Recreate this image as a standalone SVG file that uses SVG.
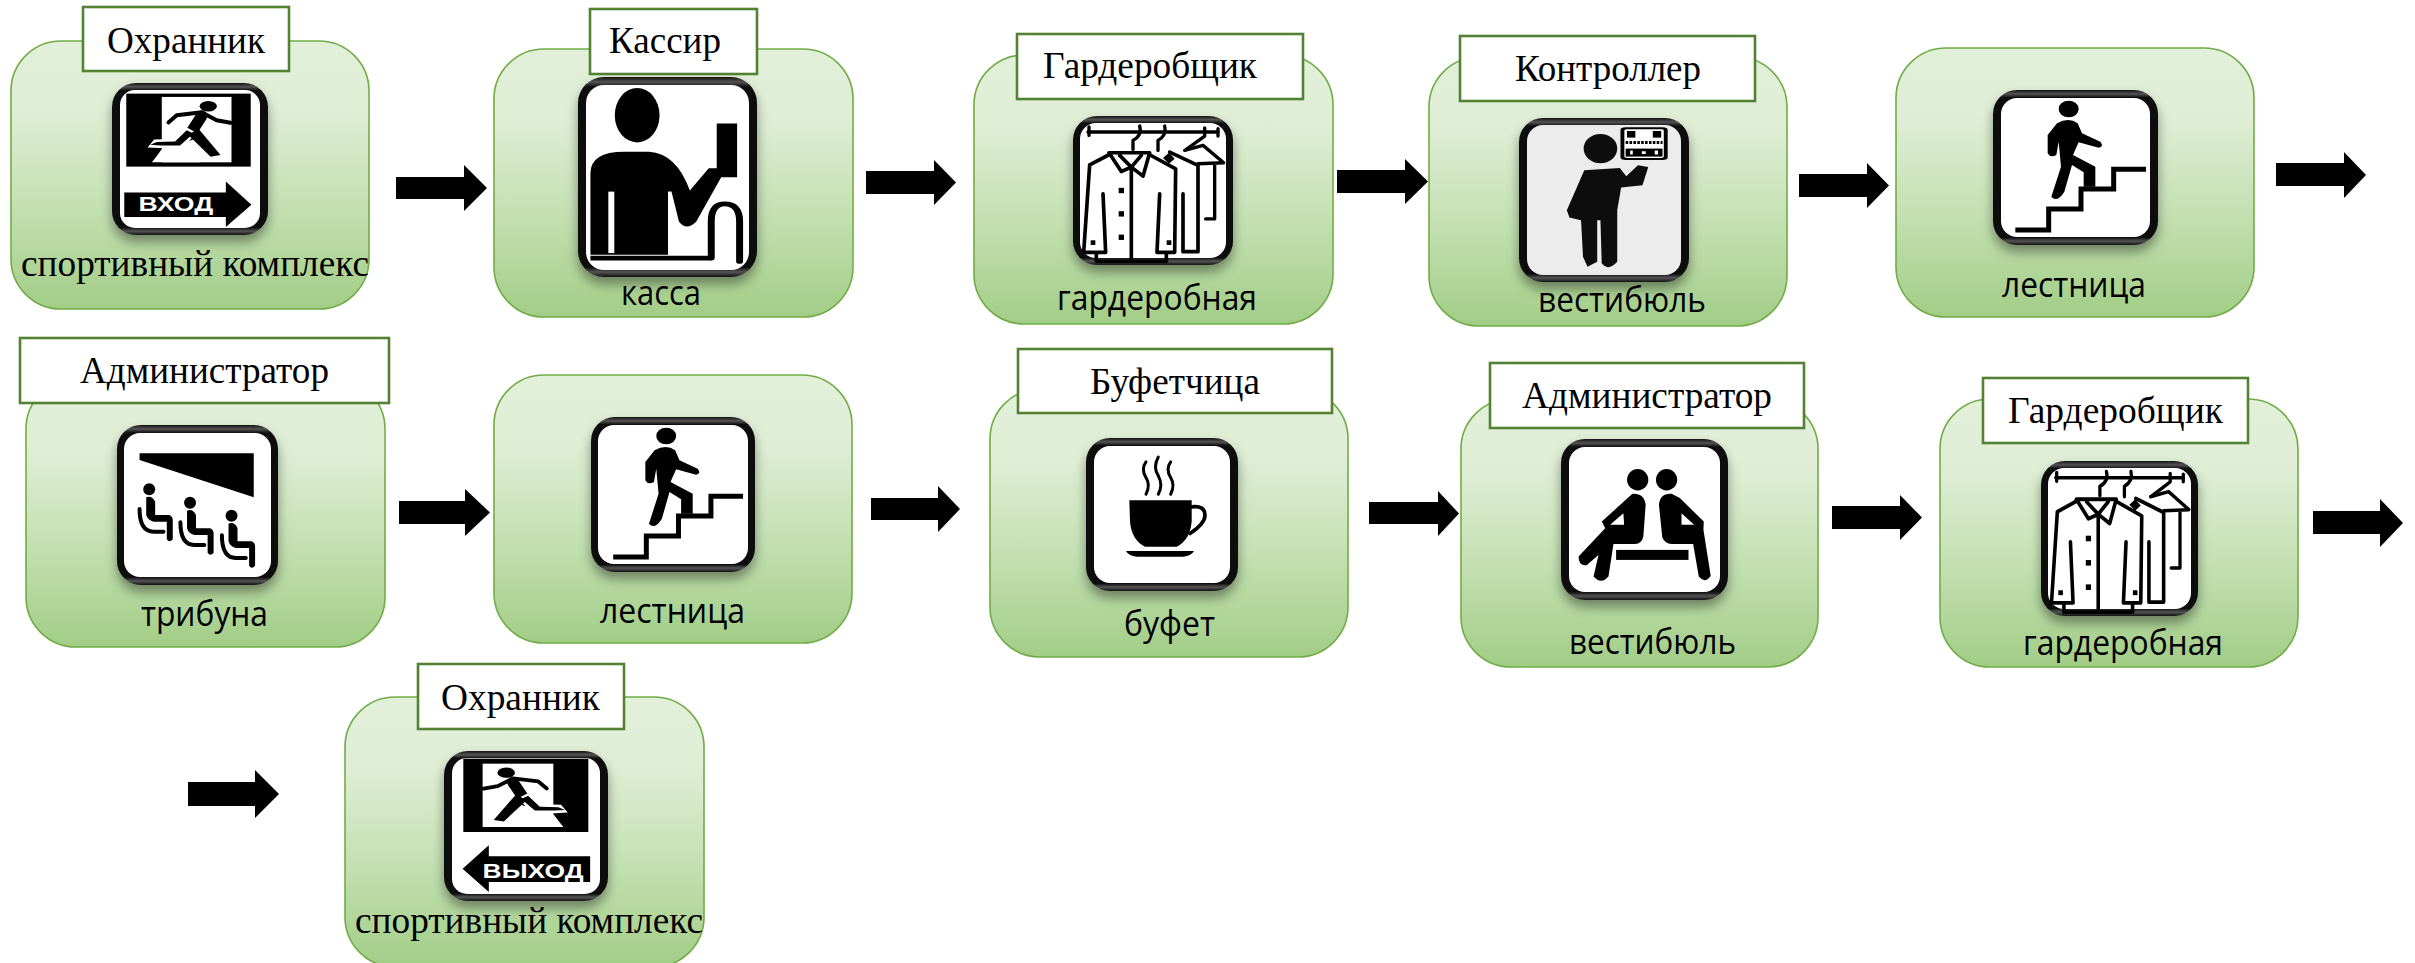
<svg xmlns="http://www.w3.org/2000/svg" width="2415" height="963" viewBox="0 0 2415 963">
<style>
.card{fill:url(#cardGrad);stroke:#70ad47;stroke-width:1.6}
.lab{fill:#fff;stroke:#548235;stroke-width:2.6}
.frame{fill:url(#bevel);filter:url(#shadow)}
.in{fill:#fff}
.t{font-family:"Liberation Serif","Times New Roman",serif;font-size:37px;fill:#000}
.s{font-family:"Open Sans","Liberation Sans",sans-serif;font-size:34px;fill:#000}
.arrow{fill:#000}
.b{fill:#000}
.w{fill:#fff}
.l{fill:none;stroke:#000;stroke-linecap:round;stroke-linejoin:round}
.bt{stroke-linecap:butt;stroke-linejoin:miter}
.sign{font-family:"Liberation Sans",Arial,sans-serif;font-weight:700;fill:#fff}
</style>
<defs>
<linearGradient id="cardGrad" x1="0" y1="0" x2="0" y2="1">
<stop offset="0" stop-color="#e2efd9"/><stop offset="0.25" stop-color="#e0eed6"/><stop offset="0.6" stop-color="#c5e1b4"/><stop offset="1" stop-color="#a2cd86"/>
</linearGradient>
<linearGradient id="bevel" x1="0" y1="0" x2="0" y2="1">
<stop offset="0" stop-color="#111"/><stop offset="0.025" stop-color="#555"/><stop offset="0.05" stop-color="#0a0a0a"/><stop offset="0.95" stop-color="#0a0a0a"/><stop offset="0.975" stop-color="#555"/><stop offset="1" stop-color="#111"/>
</linearGradient>
<filter id="shadow" x="-20%" y="-15%" width="140%" height="135%">
<feDropShadow dx="0" dy="7" stdDeviation="6" flood-color="#000" flood-opacity="0.4"/>
</filter>

<g id="runner">
<ellipse cx="625" cy="318" rx="26" ry="16" class="b"/>
<path class="l" stroke-width="34" d="M605 348L568 405"/>
<path class="l" stroke-width="12" d="M505 367L530 345L605 336L650 360L692 368"/>
<path d="M442 442L462 418L528 416L556 380L590 398L548 444L478 444Z" class="w"/>
<path d="M450 434L470 426L525 424L560 390L580 400L540 436L480 436Z" class="b"/>
<path d="M565 405L595 385L662 465L632 470Z" class="b"/>
<path d="M455 487L470 468L484 448L540 448L560 440L600 487Z" class="w"/>
</g>

<symbol id="g-enter" viewBox="335 248 470 458" preserveAspectRatio="none">
<rect x="378" y="280" width="375" height="220" class="b"/>
<rect x="485" y="290" width="210" height="197" class="w"/>
<use href="#runner"/>
<path class="b" d="M372 578H678V545L755 615L678 682V652H372Z"/>
<text class="sign" x="415" y="635" font-size="62" textLength="225" lengthAdjust="spacingAndGlyphs">ВХОД</text>
</symbol>

<symbol id="g-exit" viewBox="782 302 450 450" preserveAspectRatio="none">
<rect x="835" y="325" width="343" height="220" class="b"/>
<rect x="888" y="340" width="194" height="190" class="w"/>
<use href="#runner" transform="matrix(-.924 0 0 .964 1530.100 60.400)"/>
<path class="b" d="M833 655L905 585V618H1183V695H905V725Z"/>
<text class="sign" x="888" y="683" font-size="60" textLength="277" lengthAdjust="spacingAndGlyphs">ВЫХОД</text>
</symbol>

<symbol id="g-cash" viewBox="197 230 360 602" preserveAspectRatio="none">
<ellipse cx="316" cy="345" rx="45" ry="82" class="b"/>
<path class="b" d="M222 765V520Q222 455 290 455H340Q395 460 422 572L460 505H476V370H517V532H485L435 665Q415 695 400 665L385 575H378V765Z"/>
<path d="M258 575H270V760H258Z" class="w"/>
<path class="l bt" stroke-width="14" d="M222 775H465"/>
<path class="l" stroke-width="14" d="M465 775V665Q465 612 492 612Q522 612 522 665V785"/>
</symbol>

<symbol id="g-coat" viewBox="10 12 480 446" preserveAspectRatio="none">
<path class="l" stroke-width="10" d="M55 60H445"/>
<path class="l" stroke-width="10" d="M58 45V70M445 50V72"/>
<path class="l" stroke-width="10" d="M210 42Q218 70 190 85V112M285 42Q292 70 265 85V115M405 48V72L350 112"/>
<path class="l" stroke-width="10" d="M345 115L400 100L462 152L385 155M435 155V320H408"/>
<path class="l" stroke-width="11" d="M300 120L385 160V418H340V245"/>
<path class="b" d="M298 122L315 140L298 155L280 138Z"/>
<path class="l" stroke-width="11" d="M118 128L60 158L42 420H108L100 245M80 420V447H290V420M262 420H315L318 170L240 128M262 420L270 245"/>
<path class="l" stroke-width="11" d="M118 122H240L220 192L185 165L155 178ZM150 130L185 165L215 130M185 170V445"/>
<rect x="147" y="227" width="16" height="16" class="b"/><rect x="147" y="297" width="16" height="16" class="b"/><rect x="147" y="367" width="16" height="16" class="b"/>
<rect x="63" y="384" width="14" height="14" class="b"/><rect x="291" y="384" width="14" height="14" class="b"/>
</symbol>

<symbol id="g-ctrl" viewBox="184 353 263 493" preserveAspectRatio="none">
<ellipse cx="310" cy="445" rx="26" ry="44" fill="#0d0d0d"/>
<path fill="#0d0d0d" d="M285 510L340 503L350 528L368 495L384 500L375 555L342 562L336 630V785Q322 815 312 790L310 660H305V785L290 800L283 770L280 660L262 652L258 630Z"/>
<rect x="341" y="381" width="73" height="98" rx="8" class="b"/>
<rect x="347" y="387" width="61" height="86" rx="4" class="w"/>
<rect x="351" y="392" width="13" height="20" class="b"/><rect x="391" y="392" width="13" height="20" class="b"/>
<path class="l bt" stroke-width="9" stroke-dasharray="4 2" d="M349 427H406"/>
<rect x="349" y="445" width="57" height="24" class="b"/>
<path d="M356 451h4v12h-4zM374 453h6v8h-6zM394 451h5v12h-5z" class="w"/>
</symbol>

<symbol id="g-stairs" viewBox="8 15 495 465" preserveAspectRatio="none">
<path class="l bt" stroke-width="15" d="M75 435H175V372H272V312H370V253H467"/>
<ellipse cx="235" cy="72" rx="30" ry="25" class="b"/>
<path class="b" d="M200 115Q235 95 262 115L275 145L330 170Q342 185 325 188L265 172L248 210L315 245V305H280V262L245 240L222 320Q200 355 183 335L212 245L205 170L198 210Q180 220 172 205V150Z"/>
</symbol>

<g id="seated">
<circle cx="117" cy="208" r="18" class="b"/>
<path class="b" d="M108 232Q125 225 135 245V285H178Q188 290 188 300V358Q178 370 170 358V305H130Q112 300 108 285Z"/>
<path class="l" stroke-width="12" d="M88 267Q88 335 130 335H160"/>
</g>
<symbol id="g-trib" viewBox="20 15 485 480" preserveAspectRatio="none">
<path class="b" d="M88 100H432V232L88 120Z"/>
<use href="#seated"/>
<use href="#seated" x="123" y="40"/>
<use href="#seated" x="248" y="79"/>
</symbol>

<symbol id="g-cup" viewBox="208 278 456 460" preserveAspectRatio="none">
<path class="b" d="M338 465H525V530Q520 585 480 605H385Q345 585 340 530Z"/>
<path class="l" stroke-width="11" d="M525 485Q565 480 565 510Q565 535 520 565"/>
<path class="b" d="M328 618H532Q525 632 500 635H360Q335 632 328 618Z"/>
<path class="l" stroke-width="9" d="M388 350Q372 372 388 397Q402 420 388 447M425 335Q408 365 425 392Q440 420 425 447M462 350Q446 372 462 397Q476 420 462 447"/>
</symbol>

<symbol id="g-bench" viewBox="17 28 503 482" preserveAspectRatio="none">
<circle cx="248" cy="150" r="32" class="b"/><circle cx="335" cy="150" r="32" class="b"/>
<path class="b" d="M232 192Q268 190 272 225L265 320Q260 342 240 342H175L160 440Q138 465 115 440L130 375L95 405Q70 410 70 380L150 295L140 275Z"/>
<path class="w" d="M165 285H207L205 250Z"/>
<path class="b" d="M350 192Q315 190 312 225L322 322Q330 342 350 342H415L432 440Q450 462 468 438L446 300L447 275L375 205Z"/>
<path class="w" d="M380 250V285H418Z"/>
<rect x="183" y="360" width="218" height="30" class="b"/>
</symbol>
</defs>

<rect width="2415" height="963" fill="#fff"/>

<g id="node-1">
<rect class="card" x="11" y="41" width="358" height="268" rx="50"/>
<rect class="lab" x="83" y="7" width="206" height="64"/>
<text class="t" x="107" y="53" textLength="158" lengthAdjust="spacingAndGlyphs">Охранник</text>
<rect class="frame" x="112" y="83" width="156" height="152" rx="24"/><rect class="in" x="120" y="90" width="140" height="138" rx="15"/>
<use href="#g-enter" x="112" y="83" width="156" height="152"/>
<text class="t" x="21" y="276" textLength="348" lengthAdjust="spacingAndGlyphs">спортивный комплекс</text>
</g>

<g id="node-2">
<rect class="card" x="494" y="49" width="359" height="268" rx="50"/>
<rect class="lab" x="590" y="9" width="167" height="65"/>
<text class="t" x="609" y="53" textLength="112" lengthAdjust="spacingAndGlyphs">Кассир</text>
<rect class="frame" x="578" y="77" width="179" height="200" rx="26"/><rect class="in" x="586" y="85" width="163" height="185" rx="18"/>
<use href="#g-cash" x="578" y="77" width="179" height="200"/>
<text class="s" x="621" y="305" textLength="80" lengthAdjust="spacingAndGlyphs">касса</text>
</g>

<g id="node-3">
<rect class="card" x="974" y="55" width="359" height="269" rx="50"/>
<rect class="lab" x="1017" y="34" width="286" height="65"/>
<text class="t" x="1043" y="78" textLength="214" lengthAdjust="spacingAndGlyphs">Гардеробщик</text>
<rect class="frame" x="1073" y="116" width="160" height="149" rx="24"/><rect class="in" x="1080" y="123" width="146" height="135" rx="16"/>
<use href="#g-coat" x="1073" y="116" width="160" height="149"/>
<text class="s" x="1057" y="310" textLength="200" lengthAdjust="spacingAndGlyphs">гардеробная</text>
</g>

<g id="node-4">
<rect class="card" x="1429" y="57" width="358" height="269" rx="50"/>
<rect class="lab" x="1460" y="36" width="295" height="65"/>
<text class="t" x="1515" y="81" textLength="186" lengthAdjust="spacingAndGlyphs">Контроллер</text>
<rect class="frame" x="1519" y="118" width="170" height="164" rx="24"/><rect x="1527" y="125" width="154" height="150" rx="16" fill="#ececec"/>
<use href="#g-ctrl" x="1519" y="118" width="170" height="164"/>
<text class="s" x="1538" y="312" textLength="168" lengthAdjust="spacingAndGlyphs">вестибюль</text>
</g>

<g id="node-5">
<rect class="card" x="1896" y="48" width="358" height="269" rx="50"/>
<rect class="frame" x="1993" y="90" width="165" height="155" rx="24"/><rect class="in" x="2001" y="98" width="149" height="139" rx="16"/>
<use href="#g-stairs" x="1993" y="90" width="165" height="155"/>
<text class="s" x="2002" y="297" textLength="144" lengthAdjust="spacingAndGlyphs">лестница</text>
</g>

<g id="node-6">
<rect class="card" x="26" y="379" width="359" height="268" rx="50"/>
<rect class="lab" x="20" y="338" width="369" height="65"/>
<text class="t" x="80" y="383" textLength="249" lengthAdjust="spacingAndGlyphs">Администратор</text>
<rect class="frame" x="117" y="425" width="161" height="160" rx="24"/><rect class="in" x="124" y="433" width="147" height="144" rx="16"/>
<use href="#g-trib" x="117" y="425" width="161" height="160"/>
<text class="s" x="141" y="626" textLength="127" lengthAdjust="spacingAndGlyphs">трибуна</text>
</g>

<g id="node-7">
<rect class="card" x="494" y="375" width="358" height="268" rx="50"/>
<rect class="frame" x="591" y="417" width="164" height="155" rx="24"/><rect class="in" x="598" y="425" width="150" height="139" rx="16"/>
<use href="#g-stairs" x="591" y="417" width="164" height="155"/>
<text class="s" x="600" y="623" textLength="145" lengthAdjust="spacingAndGlyphs">лестница</text>
</g>

<g id="node-8">
<rect class="card" x="990" y="389" width="358" height="268" rx="50"/>
<rect class="lab" x="1018" y="349" width="314" height="64"/>
<text class="t" x="1090" y="394" textLength="170" lengthAdjust="spacingAndGlyphs">Буфетчица</text>
<rect class="frame" x="1086" y="438" width="152" height="153" rx="24"/><rect class="in" x="1094" y="446" width="136" height="137" rx="16"/>
<use href="#g-cup" x="1086" y="438" width="152" height="153"/>
<text class="s" x="1124" y="636" textLength="91" lengthAdjust="spacingAndGlyphs">буфет</text>
</g>

<g id="node-9">
<rect class="card" x="1461" y="399" width="357" height="268" rx="50"/>
<rect class="lab" x="1490" y="363" width="314" height="65"/>
<text class="t" x="1522" y="408" textLength="250" lengthAdjust="spacingAndGlyphs">Администратор</text>
<rect class="frame" x="1561" y="439" width="167" height="161" rx="24"/><rect class="in" x="1569" y="447" width="151" height="145" rx="16"/>
<use href="#g-bench" x="1561" y="439" width="167" height="161"/>
<text class="s" x="1569" y="654" textLength="167" lengthAdjust="spacingAndGlyphs">вестибюль</text>
</g>

<g id="node-10">
<rect class="card" x="1940" y="399" width="358" height="268" rx="50"/>
<rect class="lab" x="1983" y="378" width="265" height="65"/>
<text class="t" x="2008" y="423" textLength="215" lengthAdjust="spacingAndGlyphs">Гардеробщик</text>
<rect class="frame" x="2041" y="461" width="157" height="155" rx="24"/><rect class="in" x="2048" y="468" width="143" height="141" rx="16"/>
<use href="#g-coat" x="2041" y="461" width="157" height="155"/>
<text class="s" x="2023" y="655" textLength="200" lengthAdjust="spacingAndGlyphs">гардеробная</text>
</g>

<g id="node-11">
<rect class="card" x="345" y="697" width="359" height="270" rx="50"/>
<rect class="lab" x="418" y="664" width="206" height="65"/>
<text class="t" x="441" y="710" textLength="159" lengthAdjust="spacingAndGlyphs">Охранник</text>
<rect class="frame" x="444" y="751" width="164" height="150" rx="24"/><rect class="in" x="452" y="758" width="148" height="136" rx="15"/>
<use href="#g-exit" x="444" y="751" width="164" height="150"/>
<text class="t" x="355" y="933" textLength="348" lengthAdjust="spacingAndGlyphs">спортивный комплекс</text>
</g>

<g id="connectors">
<path class="arrow" d="M396 177H464V165L487 188L464 211V199H396Z"/>
<path class="arrow" d="M866 171H934V160L956 182.500L934 205V194H866Z"/>
<path class="arrow" d="M1337 170H1405V159L1428 181.500L1405 204V193H1337Z"/>
<path class="arrow" d="M1799 174H1867V163L1889 185.500L1867 208V197H1799Z"/>
<path class="arrow" d="M2276 163H2344V152L2366 175L2344 198V186H2276Z"/>
<path class="arrow" d="M399 501H465V489L490 512.500L465 536V524H399Z"/>
<path class="arrow" d="M871 498H938V486L960 509L938 532V520H871Z"/>
<path class="arrow" d="M1369 502H1438V491L1459 513.500L1438 536V524H1369Z"/>
<path class="arrow" d="M1832 506H1900V495L1922 517.500L1900 540V529H1832Z"/>
<path class="arrow" d="M2313 511H2380V499L2403 523L2380 547V534H2313Z"/>
<path class="arrow" d="M188 782H255V770L279 794L255 818V806H188Z"/>
</g>
</svg>
